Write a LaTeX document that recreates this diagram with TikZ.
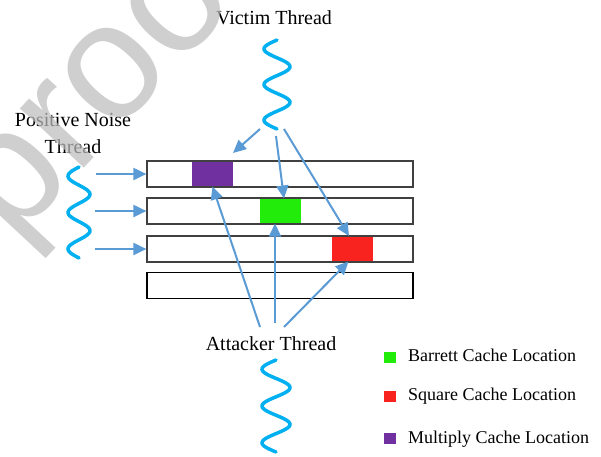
\documentclass[tikz,border=0pt]{standalone}
\usepackage{fontspec}
\setmainfont{Liberation Serif}
\newfontfamily\wmfont{Liberation Sans}
\usetikzlibrary{arrows.meta,calc}
\definecolor{arrowc}{RGB}{91,155,213}
\definecolor{wavec}{RGB}{0,176,240}
\definecolor{mulc}{RGB}{112,48,160}
\definecolor{barc}{RGB}{34,236,10}
\definecolor{sqc}{RGB}{248,35,31}
\definecolor{rowc}{RGB}{64,64,64}
\definecolor{wmc}{RGB}{189,189,189}
\tikzset{
  lbl/.style={font=\fontsize{20}{27}\selectfont, inner sep=0pt, anchor=base, align=center},
  leg/.style={font=\fontsize{18}{22}\selectfont, inner sep=0pt, anchor=base west},
  rowbox/.style={draw=rowc, line width=1.2pt, minimum width=266pt, minimum height=26pt, inner sep=0pt},
  blk/.style={minimum width=41pt, minimum height=24.6pt, inner sep=0pt},
  legsq/.style={minimum width=12pt, minimum height=11pt, inner sep=0pt},
  conn/.style={draw=arrowc, line width=2pt, -{Triangle[length=13pt,width=12pt]}},
  wave/.style={draw=wavec, line width=3.5pt, line cap=round},
}
\begin{document}
\begin{tikzpicture}[x=1pt,y=-1pt]
\clip (0,0) rectangle (601,456);
\fill[white] (0,0) rectangle (601,456);

% labels
\node[lbl] (vt) at (274,24) {Victim Thread};
\node[lbl] (nt) at (73,153) {Positive Noise\\Thread};
\node[lbl] (at) at (271,350) {Attacker Thread};

% waves
\draw[wave] plot[domain=0:5, samples=90, smooth] ({277-13*sin(180*\x)}, {40+\x*89/5});
\draw[wave] plot[domain=0:5, samples=90, smooth] ({79-11*sin(180*\x)}, {167+\x*91/5});
\draw[wave] plot[domain=0:5, samples=90, smooth] ({276-14*sin(180*\x)}, {360+\x*92/5});

% cache rows
\node[rowbox] (r1) at (280,174) {};
\node[rowbox] (r2) at (280,211) {};
\node[rowbox] (r3) at (280,249) {};
\node[rowbox, draw=black] (r4) at (280,285.5) {};

% cache locations
\node[blk, fill=mulc] (pm) at (212.5,174) {};
\node[blk, fill=barc] (pb) at (280.5,211) {};
\node[blk, fill=sqc] (ps) at (352.5,249) {};

% connector start points
\coordinate (v1) at (260,129);
\coordinate (v2) at (276,136);
\coordinate (v3) at (284,129);
\coordinate (vtip) at (233,153);
\coordinate (n1) at (96,174);
\coordinate (n2) at (95,211);
\coordinate (n3) at (95,249);
\coordinate (a1) at (260,327);
\coordinate (a2) at (275,323);
\coordinate (a3) at (284,327);

% victim connectors
\draw[conn] (v1) -- (vtip);
\draw[conn] (v2) -- ($(pb.north)+(3.5,0)$);
\draw[conn] (v3) -- ($(ps.north)+(-3.5,-0.5)$);

% noise connectors
\draw[conn] (n1) -- (r1.west);
\draw[conn] (n2) -- (r2.west);
\draw[conn] (n3) -- (r3.west);

% attacker connectors
\draw[conn] (a1) -- (pm.south);
\draw[conn] (a2) -- (a2 |- pb.south);
\draw[conn] (a3) -- ($(ps.south)+(-4,0)$);

% legend
\node[legsq, fill=barc] (lb) at (390,357.5) {};
\node[leg] (tb) at (408,361) {Barrett Cache Location};
\node[legsq, fill=sqc] (ls) at (390,396) {};
\node[leg] (ts) at (408,400) {Square Cache Location};
\node[legsq, fill=mulc] (lm) at (390,438.5) {};
\node[leg] (tm) at (408,443) {Multiply Cache Location};

% watermark
\node[font=\wmfont\fontsize{165}{165}\selectfont, text=wmc, text opacity=0.72,
      inner sep=0pt, anchor=base west, rotate=47] (wm) at (-199,472) {Pre-proof};
\end{tikzpicture}
\end{document}
